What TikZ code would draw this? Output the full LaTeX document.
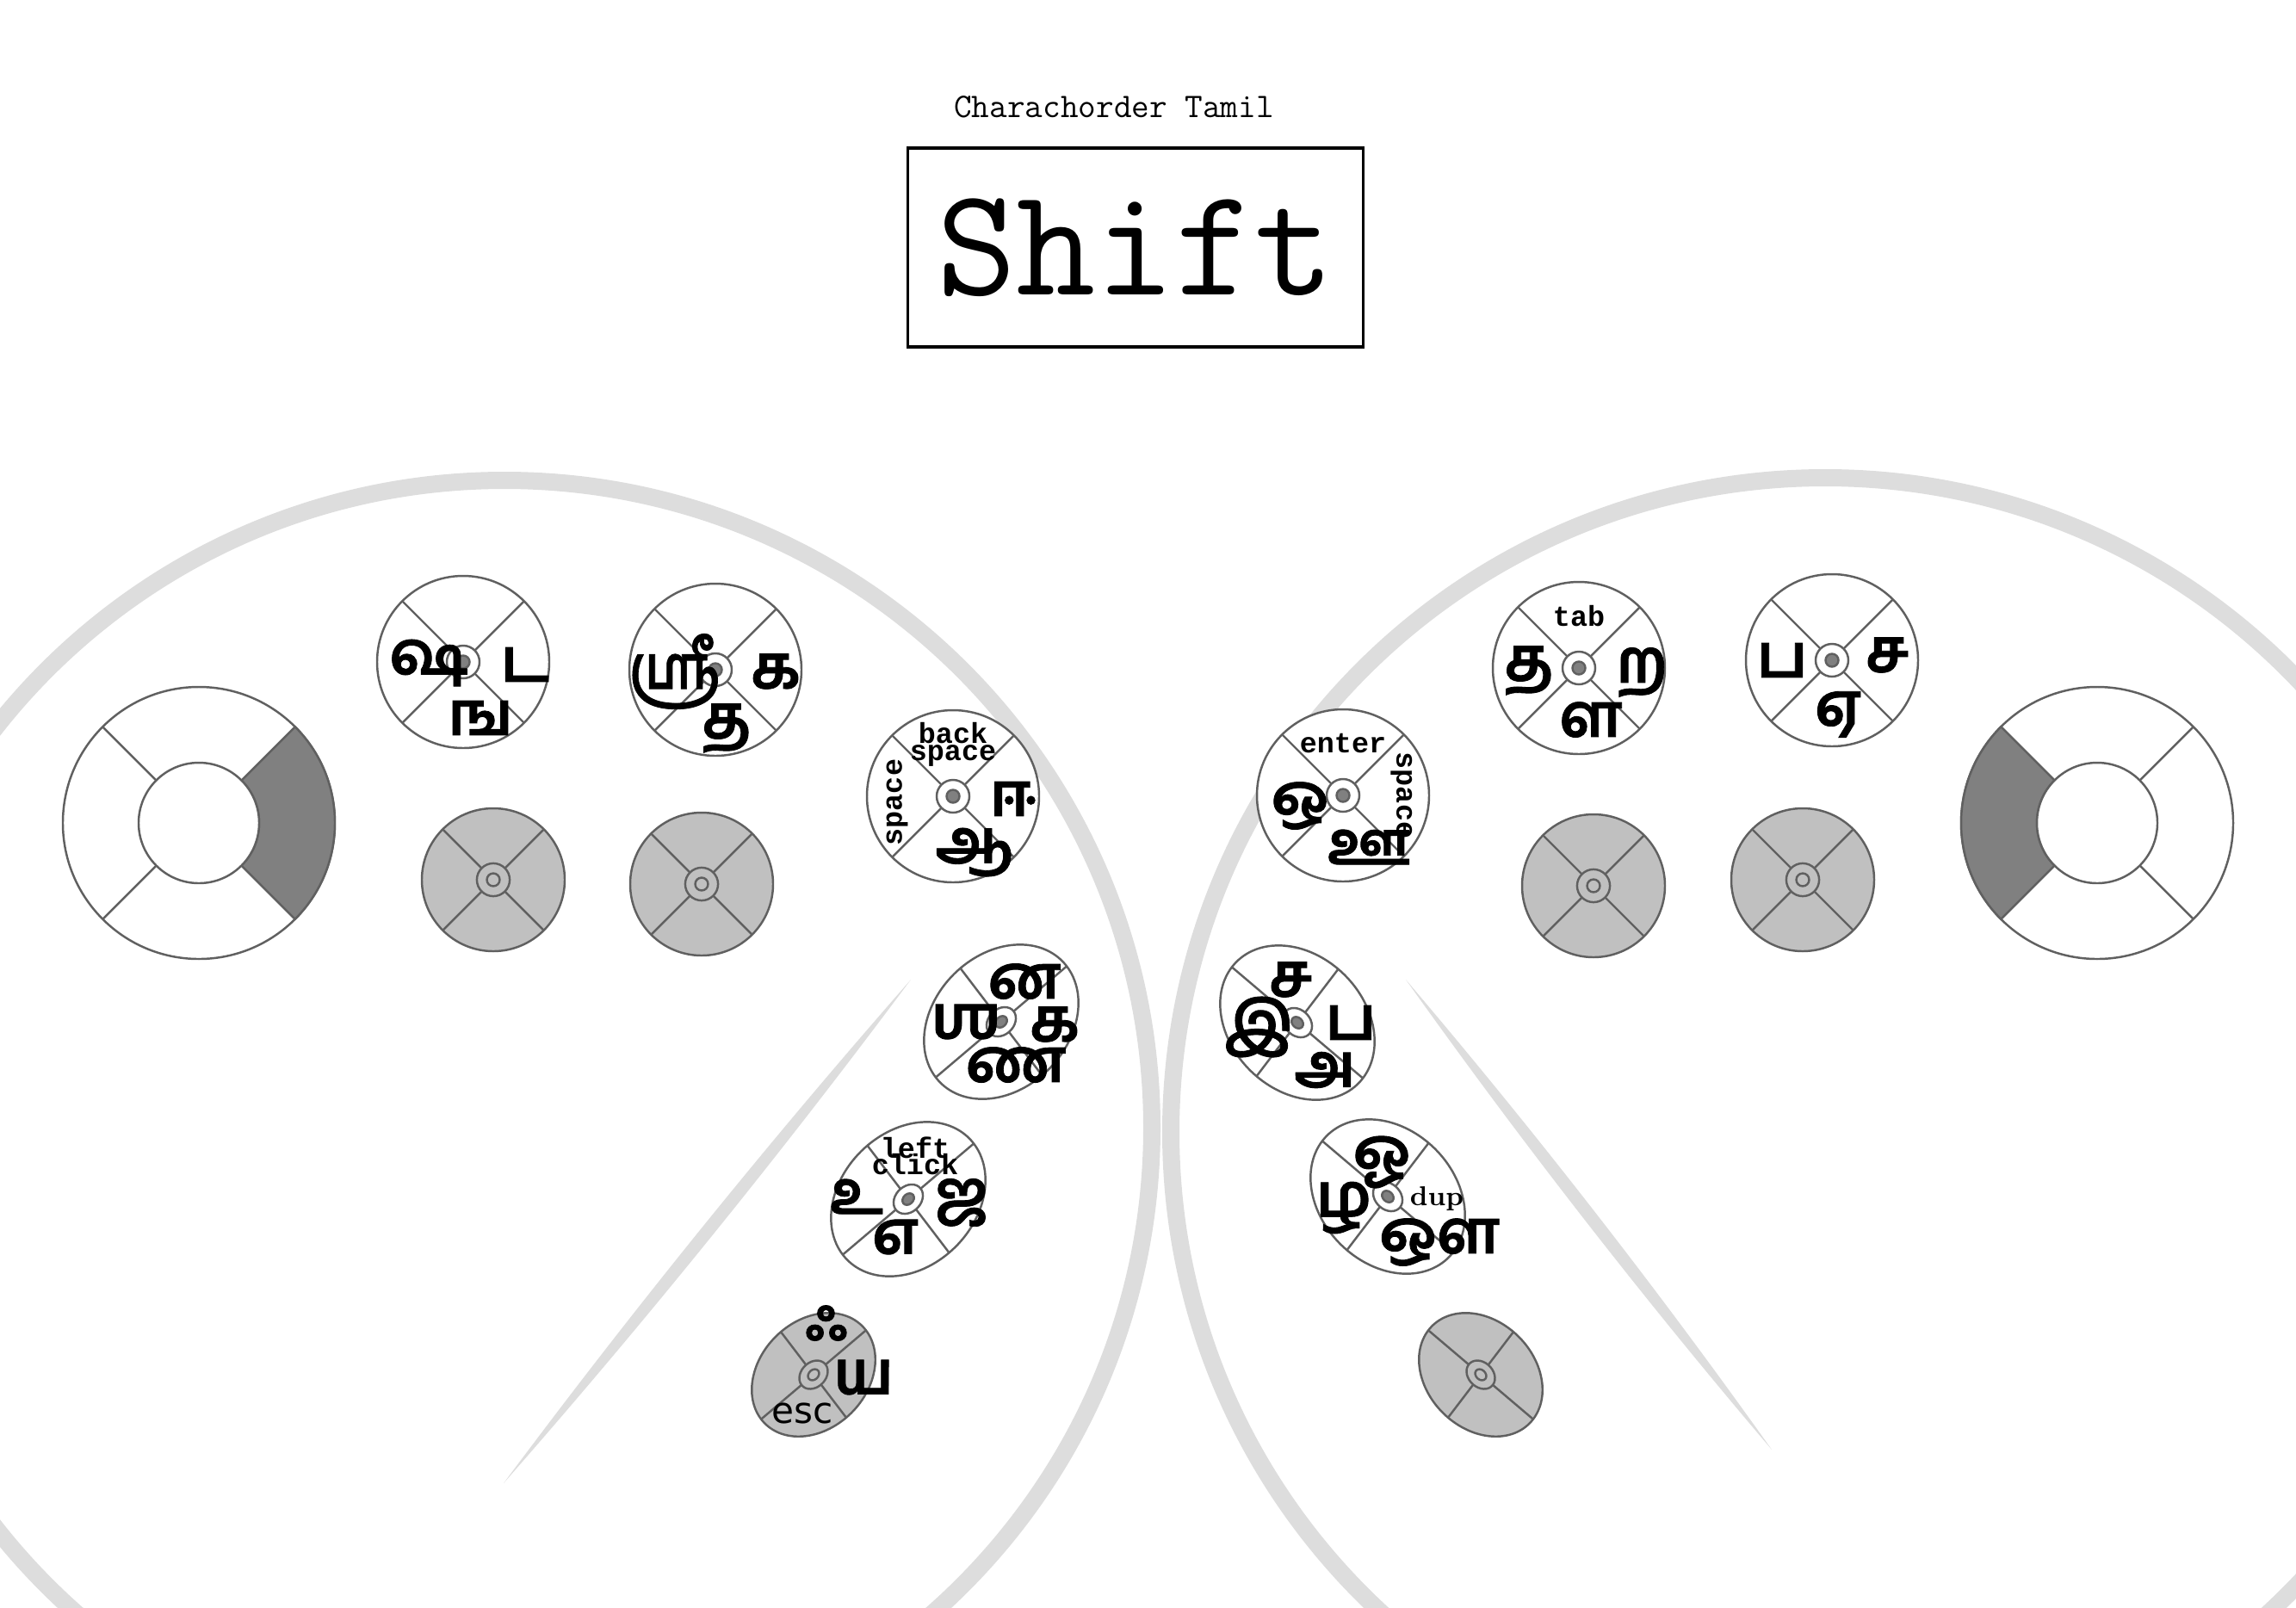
\documentclass[tikz,border=0pt]{standalone}
\usepackage{fontspec}
\usepackage{graphicx}
\newfontfamily\monofont{Liberation Mono}
\newfontfamily\tamilfont[Script=Tamil, FakeBold=1.2]{Hind Madurai}
\newfontfamily\escfont{DejaVu Sans}
\definecolor{keyline}{RGB}{96,96,96}
\definecolor{keydark}{RGB}{128,128,128}
\definecolor{keygrey}{RGB}{192,192,192}
\definecolor{archgrey}{RGB}{221,221,221}

\begin{document}
\begin{tikzpicture}
\tikzstyle{rim} = [draw=keyline, line width=0.7pt]
\tikzstyle{tamil} = [inner sep=0pt, font=\fontsize{20}{20}\tamilfont\bfseries]
\tikzstyle{keytext} = [inner sep=0pt, align=center, font={\fontsize{9.5}{5.5}\monofont\bfseries\lineskiplimit=-20pt}]
\tikzset{
  whitekey/.pic={
    \draw[rim, fill=white] (0,0) circle (1);
    \draw[rim] (45:1) -- (225:1);
    \draw[rim] (135:1) -- (315:1);
    \draw[rim, fill=white] (0,0) circle (0.19);
    \draw[rim, fill=keydark] (0,0) circle (0.075);
  },
  greykey/.pic={
    \draw[rim, fill=keygrey] (0,0) circle (1);
    \draw[rim] (45:1) -- (225:1);
    \draw[rim] (135:1) -- (315:1);
    \draw[rim, fill=keygrey] (0,0) circle (0.23);
    \draw[rim] (0,0) circle (0.09);
  },
  thumbkey/.pic={
    \draw[rim, fill=white] (0,0) circle (1.58);
    \draw[rim, fill=keydark] (-45:0.7) arc (-45:45:0.7) -- (45:1.58) arc (45:-45:1.58) -- cycle;
    \draw[rim, fill=white] (0,0) circle (0.7);
    \draw[rim] (135:0.7) -- (135:1.58);
    \draw[rim] (225:0.7) -- (225:1.58);
  }
}

% Page
\path[use as bounding box, clip] (0,0) rectangle (26.67,-18.67);

% Hands
\draw[archgrey, line width=0.2cm] (5.86,-13.10) circle (7.52);
\draw[archgrey, line width=0.2cm] (21.20,-13.15) circle (7.60);
\fill[archgrey] (5.85,-17.23) .. controls (7.349,-15.217) and (8.925,-13.267) .. (10.58,-11.38)
  .. controls (9.081,-13.393) and (7.505,-15.343) .. (5.85,-17.23);
\fill[archgrey] (16.33,-11.38) .. controls (17.826,-13.139) and (19.242,-14.959) .. (20.58,-16.84)
  .. controls (19.084,-15.081) and (17.668,-13.261) .. (16.33,-11.38);

% Title
\node (title) [font=\fontsize{11.4}{13}\ttfamily] at (12.94,-1.24) {Charachorder Tamil};
\node (layer) [draw, line width=0.9pt, minimum width=5.29cm, minimum height=2.31cm, font=\fontsize{51}{56}\ttfamily] at (13.19,-2.875) {Shift};

% Left hand keys
\pic (thumbL) at (2.31,-9.56) {thumbkey};
\pic (key1) at (5.38,-7.69) {whitekey};
\pic (key2) at (8.31,-7.78) {whitekey};
\pic[scale=0.83] (key3) at (5.73,-10.22) {greykey};
\pic[scale=0.83] (key4) at (8.15,-10.27) {greykey};
\pic (key5) at (11.07,-9.25) {whitekey};
\pic[rotate=45, yscale=0.78, rotate=-51] (key6) at (11.63,-11.87) {whitekey};
\pic[rotate=45, yscale=0.78, rotate=-51] (key7) at (10.55,-13.93) {whitekey};
\pic[scale=0.8, rotate=45, yscale=0.78, rotate=-51] (key8) at (9.45,-15.97) {greykey};

% Right hand keys
\pic[xscale=-1] (thumbR) at (24.36,-9.56) {thumbkey};
\pic (key9) at (18.34,-7.76) {whitekey};
\pic (key10) at (21.28,-7.67) {whitekey};
\pic[scale=0.83] (key11) at (18.51,-10.29) {greykey};
\pic[scale=0.83] (key12) at (20.94,-10.22) {greykey};
\pic (key13) at (15.60,-9.24) {whitekey};
\pic[xscale=-1, rotate=45, yscale=0.78, rotate=-51] (key14) at (15.07,-11.88) {whitekey};
\pic[xscale=-1, rotate=45, yscale=0.78, rotate=-51] (key15) at (16.12,-13.90) {whitekey};
\pic[xscale=-1, scale=0.8, rotate=45, yscale=0.78, rotate=-51] (key16) at (17.20,-15.97) {greykey};

% Left hand letters
\node (left1) [tamil] at (4.98,-7.70) {ஷ};
\node (right1) [tamil] at (6.10,-7.72) {ட};
\node (down1) [tamil] at (5.58,-8.34) {ங};

\node (left2) [tamil] at (7.84,-7.80) {\scalebox{0.78}[1]{ஸ்ரீ}};
\node (right2) [tamil] at (9.01,-7.80) {க};
\node (down2) [tamil] at (8.44,-8.46) {த};

\node (up5) [keytext] at (11.07,-8.65) {back\\space};
\node (left5) [keytext, rotate=90] at (10.42,-9.32) {space};
\node (right5) [tamil] at (11.77,-9.28) {ஈ};
\node (down5) [tamil] at (11.32,-9.90) {ஆ};

\node (up6) [tamil] at (11.90,-11.40) {ன};
\node (left6) [tamil] at (11.22,-11.87) {ஶ};
\node (right6) [tamil] at (12.25,-11.90) {க};
\node (down6) [tamil] at (11.80,-12.37) {ண};

\node (up7) [keytext] at (10.63,-13.43) {left\\click};
\node (left7) [tamil] at (9.95,-13.90) {உ};
\node (right7) [tamil] at (11.17,-13.97) {ஜ};
\node (down7) [tamil] at (10.40,-14.37) {எ};

\node (up8) [tamil] at (9.60,-15.37) {ஃ};
\node (right8) [tamil] at (10.03,-16.00) {ய};
\node (down8) [inner sep=0pt, font=\fontsize{12}{13}\escfont] at (9.32,-16.42) {esc};

% Right hand letters
\node (up9) [keytext] at (18.34,-7.16) {tab};
\node (left9) [tamil] at (17.76,-7.79) {த};
\node (right9) [tamil] at (19.07,-7.81) {ற};
\node (down9) [tamil] at (18.48,-8.36) {ள};

\node (left10) [tamil] at (20.70,-7.67) {ப};
\node (right10) [tamil] at (21.92,-7.61) {ச};
\node (down10) [tamil] at (21.35,-8.30) {ஏ};

\node (up13) [keytext] at (15.60,-8.64) {enter};
\node (right13) [keytext, rotate=-90] at (16.28,-9.24) {space};
\node (left13) [tamil] at (15.10,-9.36) {ஒ};
\node (down13) [tamil] at (15.90,-9.84) {ஊ};

\node (up14) [tamil] at (14.99,-11.38) {ச};
\node (left14) [tamil] at (14.62,-11.93) {இ};
\node (right14) [tamil] at (15.69,-11.88) {ப};
\node (down14) [tamil] at (15.39,-12.43) {அ};

\node (up15) [tamil] at (16.05,-13.50) {ஓ};
\node (left15) [tamil] at (15.61,-14.03) {ழ};
\node (right15) [inner sep=0pt, font=\fontsize{9}{10}\rmfamily\bfseries] at (16.69,-13.93) {dup};
\node (down15) [tamil] at (16.72,-14.43) {ஔ};
\end{tikzpicture}
\end{document}
